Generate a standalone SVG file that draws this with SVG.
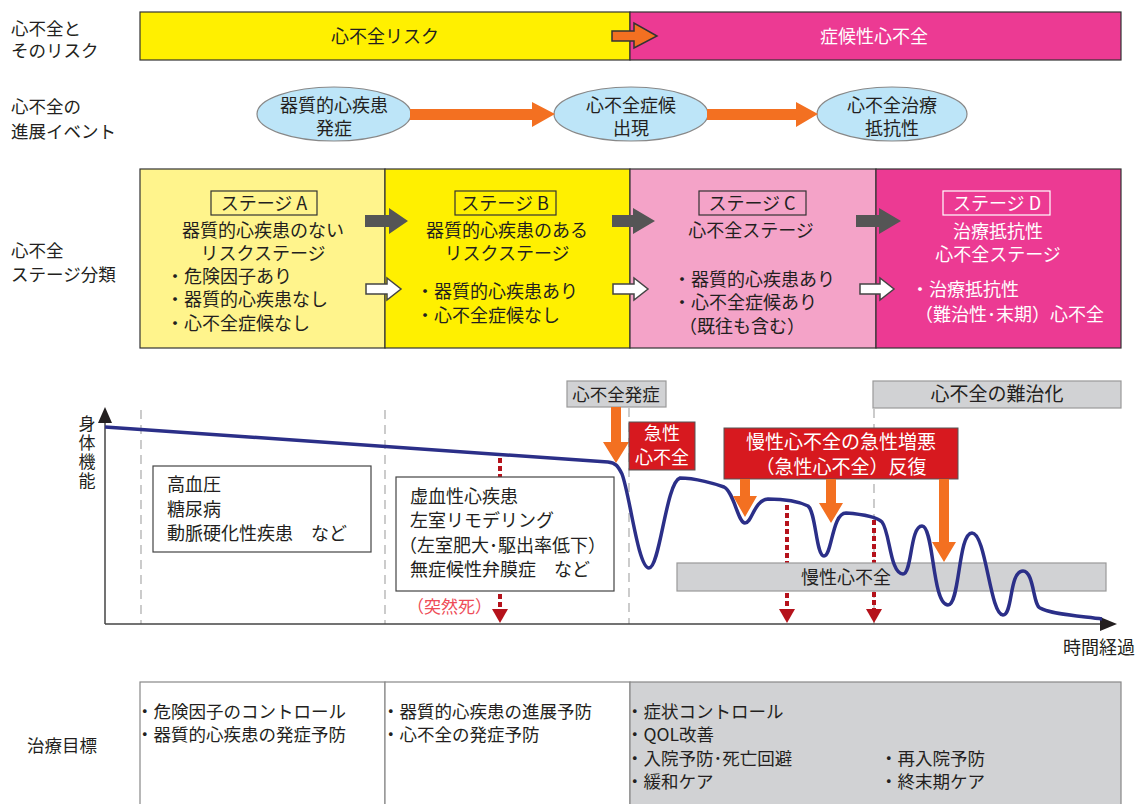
<svg xmlns="http://www.w3.org/2000/svg" width="1138" height="804" viewBox="0 0 1138 804">
<style>
text{font-family:"Noto Sans CJK JP","Noto Sans",sans-serif;fill:#231f20;font-size:18px}
.lab{font-size:17.5px}
.w{fill:#fff}
.c{text-anchor:middle}
.sm{font-size:17.5px}
.vt{font-size:17px;writing-mode:vertical-rl;letter-spacing:2px}
.box{stroke:#333;stroke-width:1.2}
.gbox{fill:#d1d2d4;stroke:#999;stroke-width:1.2}
.rbox{fill:#d7191f;stroke:#555;stroke-width:1}
.ell{fill:#bde5f8;stroke:#888;stroke-width:1.2}
.org{fill:#f37021}
.dash{stroke:#aaa;stroke-width:1.2;stroke-dasharray:9 6;fill:none}
.dot{stroke:#b5121b;stroke-width:4;stroke-dasharray:5 3;fill:none}
.darr{fill:#b5121b}
.garr{fill:#555}
.warr{fill:#fff;stroke:#444;stroke-width:1.5}
</style>

<g id="labels">
<text class="lab" x="11" y="35">心不全と</text>
<text class="lab" x="11" y="57">そのリスク</text>
<text class="lab" x="11" y="113">心不全の</text>
<text class="lab" x="11" y="138">進展イベント</text>
<text class="lab" x="11" y="257">心不全</text>
<text class="lab" x="11" y="281">ステージ分類</text>
<text class="lab" x="27" y="752">治療目標</text>
</g>

<g id="band-risk">
<rect x="140" y="12" width="490" height="48" fill="#fff000" class="box"/>
<text class="c" x="385" y="43">心不全リスク</text>
</g>
<g id="band-symptomatic">
<rect x="630" y="12" width="491" height="48" fill="#ec3a93" class="box"/>
<text class="c w" x="874" y="43">症候性心不全</text>
</g>
<g id="band-arrow">
<polygon points="612,31 634,31 634,23 657,36 634,48 634,41 612,41" class="org" stroke="#333" stroke-width="1.5"/>
</g>

<g id="event1">
<ellipse cx="334" cy="114" rx="77" ry="27" class="ell"/>
<text class="c" x="334" y="112">器質的心疾患</text>
<text class="c" x="334" y="135">発症</text>
</g>
<g id="event2">
<ellipse cx="631" cy="114" rx="77" ry="27" class="ell"/>
<text class="c" x="631" y="112">心不全症候</text>
<text class="c" x="631" y="135">出現</text>
</g>
<g id="event3">
<ellipse cx="892" cy="114" rx="75" ry="27" class="ell"/>
<text class="c" x="892" y="112">心不全治療</text>
<text class="c" x="892" y="135">抵抗性</text>
</g>

<g id="stageA">
<rect x="140" y="169" width="245" height="179" fill="#fff48c" class="box"/>
<rect x="211" y="191" width="106" height="24" fill="none" class="box"/>
<text class="c" x="264" y="210">ステージ A</text>
<text class="c" x="263" y="237">器質的心疾患のない</text>
<text class="c" x="263" y="260">リスクステージ</text>
<text x="166" y="283">・危険因子あり</text>
<text x="166" y="306">・器質的心疾患なし</text>
<text x="166" y="330">・心不全症候なし</text>
</g>
<g id="stageB">
<rect x="385" y="169" width="245" height="179" fill="#fff000" class="box"/>
<rect x="455" y="191" width="101" height="24" fill="none" class="box"/>
<text class="c" x="505" y="210">ステージ B</text>
<text class="c" x="507" y="237">器質的心疾患のある</text>
<text class="c" x="507" y="260">リスクステージ</text>
<text x="416" y="298">・器質的心疾患あり</text>
<text x="416" y="322">・心不全症候なし</text>
</g>
<g id="stageC">
<rect x="630" y="169" width="246" height="179" fill="#f4a3c8" class="box"/>
<rect x="699" y="191" width="107" height="24" fill="none" class="box"/>
<text class="c" x="752" y="210">ステージ C</text>
<text class="c" x="751" y="237">心不全ステージ</text>
<text x="673" y="286">・器質的心疾患あり</text>
<text x="673" y="309">・心不全症候あり</text>
<text x="679" y="333">（既往も含む）</text>
</g>
<g id="stageD">
<rect x="876" y="169" width="245" height="179" fill="#ec3a93" class="box"/>
<rect x="943" y="191" width="107" height="24" fill="none" stroke="#fff" stroke-width="1.2"/>
<text class="c w" x="997" y="210">ステージ D</text>
<text class="c w" x="998" y="238">治療抵抗性</text>
<text class="c w" x="998" y="261">心不全ステージ</text>
<text class="w" x="911" y="296">・治療抵抗性</text>
<text class="w" x="915" y="321">（難治性･末期）心不全</text>
</g>

<g id="graph-axes">
<line x1="141" y1="410" x2="141" y2="624" class="dash"/>
<line x1="385" y1="410" x2="385" y2="624" class="dash"/>
<line x1="629" y1="408" x2="629" y2="624" class="dash"/>
<line x1="874" y1="409" x2="874" y2="624" class="dash"/>
<line x1="105" y1="624" x2="105" y2="420" stroke="#444" stroke-width="1.5"/>
<polygon points="105,407 98,423 112,423" fill="#231f20"/>
<line x1="105" y1="624" x2="1102" y2="624" stroke="#444" stroke-width="1.5"/>
<polygon points="1117,624 1100,617 1100,631" fill="#231f20"/>
<text class="vt" x="87" y="415">身体機能</text>
<text x="1063" y="654">時間経過</text>
</g>

<g id="connectors">
<line x1="500" y1="458" x2="500" y2="610" class="dot"/>
<polygon points="492,609 508,609 500,623" class="darr"/>
<line x1="787" y1="505" x2="787" y2="610" class="dot"/>
<polygon points="779,609 795,609 787,623" class="darr"/>
<line x1="874" y1="520" x2="874" y2="610" class="dot"/>
<polygon points="866,609 882,609 874,623" class="darr"/>
<polygon points="365,215 389,215 389,208 408,221 389,234 389,227 365,227" class="garr"/>
<polygon points="612,215 633,215 633,208 655,221 633,234 633,227 612,227" class="garr"/>
<polygon points="856,215 879,215 879,208 901,221 879,234 879,227 856,227" class="garr"/>
<polygon points="366,284 387,284 387,278 401,289 387,300 387,294 366,294" class="warr"/>
<polygon points="613,284 634,284 634,278 648,289 634,300 634,294 613,294" class="warr"/>
<polygon points="860,284 880,284 880,278 894,289 880,300 880,294 860,294" class="warr"/>
<polygon points="410,109 532,109 532,102 555,114 532,127 532,120 410,120" class="org"/>
<polygon points="707,109 796,109 796,102 818,114 796,127 796,120 707,120" class="org"/>
</g>

<g id="risk-box1">
<rect x="153" y="466" width="218" height="86" fill="#fff" stroke="#444" stroke-width="1.2"/>
<text x="167" y="491">高血圧</text>
<text x="167" y="516">糖尿病</text>
<text x="167" y="540">動脈硬化性疾患　など</text>
</g>
<g id="risk-box2">
<rect x="396" y="477" width="218" height="114" fill="#fff" stroke="#444" stroke-width="1.2"/>
<text x="410" y="503">虚血性心疾患</text>
<text x="410" y="527">左室リモデリング</text>
<text x="399" y="552">（左室肥大･駆出率低下）</text>
<text x="410" y="576">無症候性弁膜症　など</text>
</g>
<g id="sudden-death">
<text x="407" y="613" style="fill:#ee4c58;font-size:17px">（突然死）</text>
</g>

<g id="chronic-hf">
<rect x="677" y="563" width="429" height="28" class="gbox"/>
<text class="c" x="846" y="584">慢性心不全</text>
</g>

<g id="curve">
<path d="M105,427 L608,462 C616,463 618,466 622,474 C630,495 638,568 649,568 C660,568 666,482 680,478 C695,478 716,484 724,487 C734,492 738,523 745,523 C752,523 754,500 768,499 C785,499 800,502 808,506 C816,512 816,556 824,556 C832,556 832,513 846,513 C860,514 876,516 882,522 C890,532 890,574 903,574 C912,574 910,526 922,526 C934,526 932,605 948,605 C960,605 958,533 972,533 C986,533 990,615 1003,615 C1013,615 1009,571 1023,571 C1034,571 1033,605 1040,608 C1050,614 1080,616 1102,619" fill="none" stroke="#2b2f88" stroke-width="3.5" stroke-linejoin="round"/>
</g>

<g id="onset">
<rect x="567" y="381" width="99" height="26" class="gbox"/>
<text class="c sm" x="616" y="401">心不全発症</text>
<polygon points="611,407 621,407 621,442 629,442 616,463 603,442 611,442" class="org"/>
</g>
<g id="acute-hf">
<rect x="629" y="422" width="66" height="48" class="rbox"/>
<text class="c w" x="662" y="440">急性</text>
<text class="c w" x="662" y="464">心不全</text>
</g>
<g id="acute-exacerbation">
<rect x="724" y="428" width="234" height="51" class="rbox"/>
<text class="c w" x="841" y="449" style="font-size:19px">慢性心不全の急性増悪</text>
<text class="c w" x="841" y="474" style="font-size:19px">（急性心不全）反復</text>
<polygon points="740,479 750,479 750,496 757,496 745,517 733,496 740,496" class="org"/>
<polygon points="826,479 836,479 836,503 843,503 831,523 819,503 826,503" class="org"/>
<polygon points="939,479 949,479 949,542 956,542 944,562 932,542 939,542" class="org"/>
</g>
<g id="refractory">
<rect x="873" y="381" width="248" height="27" class="gbox"/>
<text class="c" x="997" y="401" style="font-size:19px">心不全の難治化</text>
</g>

<g id="goals">
<rect x="140" y="682" width="245" height="130" fill="#fff" stroke="#888" stroke-width="1.2"/>
<rect x="385" y="682" width="245" height="130" fill="#fff" stroke="#888" stroke-width="1.2"/>
<rect x="630" y="682" width="491" height="130" fill="#d1d2d4" stroke="#888" stroke-width="1.2"/>
<text class="sm" x="136" y="718">・危険因子のコントロール</text>
<text class="sm" x="136" y="741">・器質的心疾患の発症予防</text>
<text class="sm" x="382" y="718">・器質的心疾患の進展予防</text>
<text class="sm" x="382" y="741">・心不全の発症予防</text>
<text class="sm" x="626" y="718">・症状コントロール</text>
<text class="sm" x="626" y="741">・QOL改善</text>
<text class="sm" x="626" y="765">・入院予防･死亡回避</text>
<text class="sm" x="626" y="788">・緩和ケア</text>
<text class="sm" x="880" y="765">・再入院予防</text>
<text class="sm" x="880" y="788">・終末期ケア</text>
</g>
</svg>
